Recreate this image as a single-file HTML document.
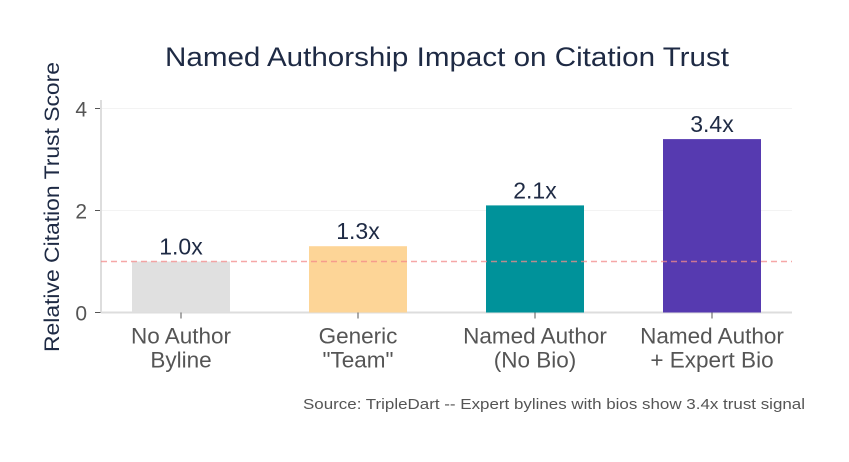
<!DOCTYPE html>
<html><head><meta charset="utf-8"><style>
body{margin:0;background:#fff;font-family:"Liberation Sans",Arial,sans-serif}
</style></head><body>
<svg id="chart" width="849" height="457" xmlns="http://www.w3.org/2000/svg">
<text x="447" y="66" text-anchor="middle" font-size="27" textLength="564" lengthAdjust="spacingAndGlyphs" fill="#1e2a44">Named Authorship Impact on Citation Trust</text>
<text transform="translate(59,207) rotate(-90)" text-anchor="middle" font-size="21" textLength="290" lengthAdjust="spacingAndGlyphs" fill="#1e2a44">Relative Citation Trust Score</text>
<text x="805" y="409" text-anchor="end" font-size="14.5" textLength="502" lengthAdjust="spacingAndGlyphs" fill="#555">Source: TripleDart -- Expert bylines with bios show 3.4x trust signal</text>
<g id="plot"></g>
</svg>
<script>
const categories=[["No Author","Byline"],["Generic","\"Team\""],["Named Author","(No Bio)"],["Named Author","+ Expert Bio"]];
const values=[1.0,1.3,2.1,3.4];
const valueLabels=["1.0x","1.3x","2.1x","3.4x"];
const colors=["#e0e0e0","#fdd597","#00929a","#563ab0"];
const yTicks=[0,2,4];
const baseline=1.0;
const NS="http://www.w3.org/2000/svg";
const g=document.getElementById('plot');
const x0=101,x1=792,yBase=312.5,pxPerUnit=51;
const y=v=>yBase-v*pxPerUnit;
const xc=i=>181+i*177;
function mk(t,a){const e=document.createElementNS(NS,t);for(const k in a)e.setAttribute(k,a[k]);g.appendChild(e);return e;}
yTicks.forEach(t=>{
 if(t>0){const gl=mk('line',{x1:x0,x2:x1,y1:y(t),y2:y(t),stroke:'#f3f3f3','stroke-width':1});
 
 }
 const tk=mk('line',{x1:x0-6,x2:x0,y1:y(t),y2:y(t),stroke:'#555','stroke-width':1});
 
 
 const tl=mk('text',{x:x0-14,y:y(t)+8,'text-anchor':'end','font-size':21,fill:'#555'});tl.textContent=t;
 
 
});
const ax=mk('line',{x1:x0,x2:x0,y1:100,y2:yBase,stroke:'#ddd','stroke-width':2});


const bx=mk('line',{x1:x0,x2:x1,y1:yBase,y2:yBase,stroke:'#ddd','stroke-width':2});


values.forEach((v,i)=>{
 const c=xc(i),w=98;
 const r=mk('rect',{x:c-w/2,y:y(v),width:w,height:yBase-y(v),fill:colors[i]});
 
 
 const t=mk('text',{x:c,y:y(v)-7,'text-anchor':'middle','font-size':23,fill:'#1e2a44'});t.textContent=valueLabels[i];
 
 
 const tk=mk('line',{x1:c,x2:c,y1:yBase,y2:yBase+6,stroke:'#555'});
 
 
 categories[i].forEach((s,j)=>{const l=mk('text',{x:c,y:yBase+31+j*24,'text-anchor':'middle','font-size':22.5,fill:'#555'});l.textContent=s;
 
 });
});
const bl=mk('line',{x1:x0,x2:x1,y1:y(baseline),y2:y(baseline),stroke:'#f48a8a','stroke-width':1.5,'stroke-dasharray':'6,4',opacity:0.75});


</script>
</body></html>
